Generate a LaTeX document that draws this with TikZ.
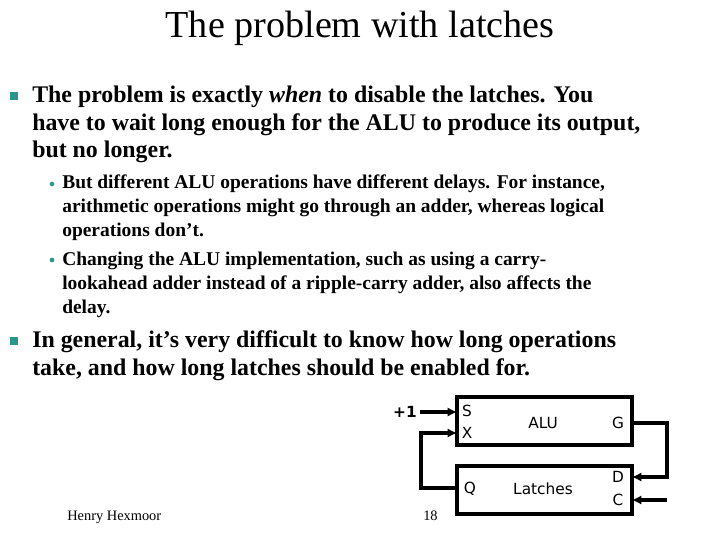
\documentclass[tikz,border=0pt]{standalone}
\usepackage{fontspec}
\usetikzlibrary{arrows.meta}
\setmainfont{Liberation Serif}
\newfontfamily\dfont{DejaVu Sans}
\definecolor{teal1}{RGB}{40,150,140}
\begin{document}
\begin{tikzpicture}[x=0.75pt,y=-0.75pt,
  mtxt/.style={anchor=base west,inner sep=0,font=\fontsize{17.9}{18}\selectfont\bfseries},
  stxt/.style={anchor=base west,inner sep=0,font=\fontsize{14.6}{15}\selectfont\bfseries},
  mbul/.style={fill=teal1,minimum size=6.5pt,inner sep=0},
  sbul/.style={circle,fill=teal1,minimum size=3.5pt,inner sep=0},
  box/.style={draw,line width=2.6pt},
  arr/.style={line width=2.6pt,-{Latex[length=7pt,width=7pt]}},
  lbl/.style={font=\dfont\fontsize{11.5}{12}\selectfont,inner sep=0}]
\useasboundingbox (0,0) rectangle (720,540);
\node[anchor=base,inner sep=0,font=\fontsize{28.6}{29}\selectfont] (title) at (360,37) {The problem with latches};
\node[mbul] (b1) at (14,96) {};
\node[mtxt] (m1) at (32,102) {The problem is exactly \textit{when} to disable the latches. You};
\node[mtxt] (m2) at (32,130) {have to wait long enough for the ALU to produce its output,};
\node[mtxt] (m3) at (32,157) {but no longer.};
\node[sbul] (s1b) at (52,184) {};
\node[stxt] (s1) at (62,188) {But different ALU operations have different delays. For instance,};
\node[stxt] (s2) at (62,212) {arithmetic operations might go through an adder, whereas logical};
\node[stxt] (s3) at (62,236) {operations don't.};
\node[sbul] (s2b) at (52,260) {};
\node[stxt] (s4) at (62,265) {Changing the ALU implementation, such as using a carry-};
\node[stxt] (s5) at (62,289) {lookahead adder instead of a ripple-carry adder, also affects the};
\node[stxt] (s6) at (62,313) {delay.};
\node[mbul] (b2) at (14,341) {};
\node[mtxt] (m4) at (32,347) {In general, it's very difficult to know how long operations};
\node[mtxt] (m5) at (32,375) {take, and how long latches should be enabled for.};
\node[anchor=base west,inner sep=0,font=\fontsize{10.8}{11}\selectfont] (hh) at (67,520) {Henry Hexmoor};
\node[anchor=base west,inner sep=0,font=\fontsize{10.8}{11}\selectfont] (pg) at (423,520) {18};
% diagram
\draw[box] (457,397) rectangle (632,445);
\draw[box] (457,466) rectangle (632,514);
\node[lbl] (p1) at (405,412) {\bfseries +1};
\node[lbl] (S) at (467,411) {S};
\node[lbl] (X) at (467,433) {X};
\node[lbl] (alu) at (543,423) {ALU};
\node[lbl] (G) at (618,423) {G};
\node[lbl] (Q) at (470,489) {Q};
\node[lbl] (lat) at (543,489) {Latches};
\node[lbl] (D) at (618,477) {D};
\node[lbl] (C) at (618,500) {C};
\coordinate (sin) at (457,412);
\coordinate (xin) at (457,433);
\coordinate (gout) at (632,423);
\coordinate (din) at (632,477);
\coordinate (qout) at (457,488);
\coordinate (cin) at (632,500);
\coordinate (cfree) at (667,500);
\draw[arr] (420,412) -- (sin);
\draw[arr] (qout) -- (421,488) -- (421,433) -- (xin);
\draw[arr] (gout) -- (667,423) -- (667,477) -- (din);
\draw[arr] (cfree) -- (cin);
\end{tikzpicture}
\end{document}
